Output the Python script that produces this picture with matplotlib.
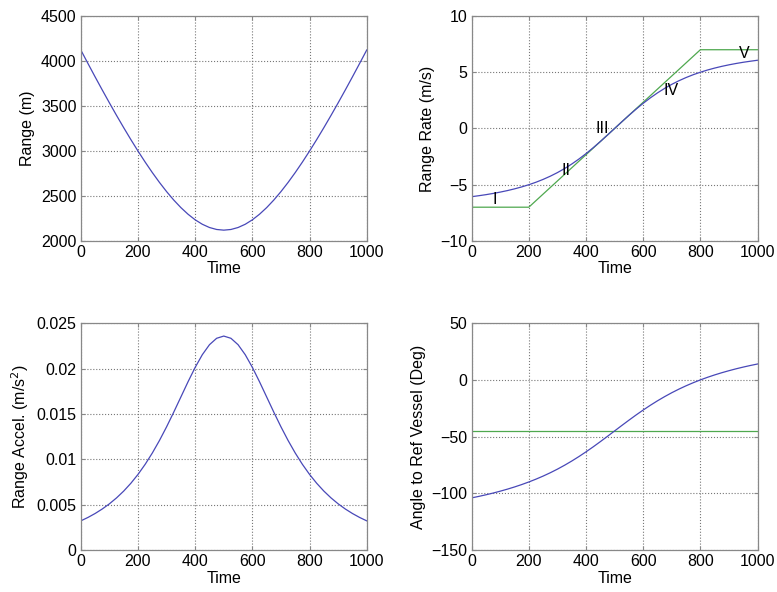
import numpy as np
import matplotlib
matplotlib.use('Agg')
import matplotlib.pyplot as plt

# --- donnees (pas de 25) ---
time = list(range(0, 1001, 25))

range_m = [4122.0, 3971.9, 3823.5, 3677.7, 3534.7, 3394.9, 3258.8, 3126.6, 2999.1, 2876.7,
           2760.3, 2650.6, 2548.4, 2454.7, 2370.5, 2296.9, 2234.8, 2185.3, 2149.3, 2127.4,
           2120.0,
           2127.4, 2149.3, 2185.3, 2234.8, 2296.9, 2370.5, 2454.7, 2548.4, 2650.6, 2760.3,
           2876.7, 2999.1, 3126.6, 3258.8, 3394.9, 3534.7, 3677.7, 3823.5, 3971.9, 4122.0]

range_rate = [-6.065, -5.979, -5.885, -5.778, -5.658, -5.523, -5.370, -5.197, -5.001, -4.780,
              -4.528, -4.244, -3.924, -3.565, -3.164, -2.721, -2.237, -1.716, -1.163, -0.588,
              0.0,
              0.588, 1.163, 1.716, 2.237, 2.721, 3.164, 3.565, 3.924, 4.244, 4.528,
              4.780, 5.001, 5.197, 5.370, 5.523, 5.658, 5.778, 5.885, 5.979, 6.065]

# approximation par morceaux (vert)
approx_t = [0, 200, 800, 1000]
approx_rate = [-7, -7, 7, 7]

range_accel = [0.00321, 0.003586, 0.00402, 0.004518, 0.005088, 0.005743, 0.006493, 0.007352,
               0.00833, 0.00944, 0.010685, 0.012067, 0.013578, 0.015193, 0.01687, 0.018545,
               0.020134, 0.021533, 0.022633, 0.02334, 0.023585,
               0.02334, 0.022633, 0.021533, 0.020134, 0.018545, 0.01687, 0.015193, 0.013578,
               0.012067, 0.010685, 0.00944, 0.00833, 0.007352, 0.006493, 0.005743, 0.005088,
               0.004518, 0.00402, 0.003586, 0.00321]

angle = [-104.05, -102.74, -101.33, -99.81, -98.14, -96.36, -94.42, -92.31, -90.02, -87.53,
         -84.83, -81.89, -78.71, -75.27, -71.58, -67.63, -63.45, -59.05, -54.47, -49.77,
         -45.0,
         -40.23, -35.53, -30.95, -26.55, -22.37, -18.42, -14.73, -11.29, -8.11, -5.17,
         -2.47, 0.02, 2.31, 4.42, 6.36, 8.14, 9.81, 11.33, 12.74, 14.05]

ref_t = [0, 1000]
ref_angle = [-45, -45]

# etiquettes des phases
phase_labels = ['I', 'II', 'III', 'IV', 'V']
phase_x = [80, 331, 456, 698, 955]
phase_y = [-6.3, -3.7, 0.0, 3.4, 6.7]

plt.rcParams['font.family'] = ['Liberation Sans', 'DejaVu Sans']
plt.rcParams['font.size'] = 11.5

BLUE = '#4848b8'
GREEN = '#4fa84f'

fig = plt.figure(figsize=(7.77, 5.92), dpi=100)
left_x, right_x, w = 0.104, 0.607, 0.368
top_y, bot_y = 0.593, 0.071

ax1 = fig.add_axes([left_x, top_y, w, 0.380])
ax2 = fig.add_axes([right_x, top_y, w, 0.380])
ax3 = fig.add_axes([left_x, bot_y, w, 0.383])
ax4 = fig.add_axes([right_x, bot_y, w, 0.383])

ax1.plot(time, range_m, color=BLUE, lw=0.9)
ax1.set_ylim(2000, 4500)
ax1.set_yticks(range(2000, 4501, 500))
ax1.set_ylabel('Range (m)')

ax2.plot(approx_t, approx_rate, color=GREEN, lw=0.9)
ax2.plot(time, range_rate, color=BLUE, lw=0.9)
ax2.set_ylim(-10, 10)
ax2.set_yticks([-10, -5, 0, 5, 10])
ax2.set_ylabel('Range Rate (m/s)')
for lab, x, y in zip(phase_labels, phase_x, phase_y):
    ax2.text(x, y, lab, ha='center', va='center', fontsize=11.5)

ax3.plot(time, range_accel, color=BLUE, lw=0.9)
ax3.set_ylim(0, 0.025)
ax3.set_yticks([0, 0.005, 0.01, 0.015, 0.02, 0.025])
ax3.set_yticklabels(['0', '0.005', '0.01', '0.015', '0.02', '0.025'])
ax3.set_ylabel('Range Accel. (m/s$^2$)')

ax4.plot(ref_t, ref_angle, color=GREEN, lw=0.9)
ax4.plot(time, angle, color=BLUE, lw=0.9)
ax4.set_ylim(-150, 50)
ax4.set_yticks([-150, -100, -50, 0, 50])
ax4.set_ylabel('Angle to Ref Vessel (Deg)')

for ax in (ax1, ax2, ax3, ax4):
    ax.set_xlim(0, 1000)
    ax.set_xticks(range(0, 1001, 200))
    ax.set_xlabel('Time', labelpad=1)
    ax.grid(True, linestyle=':', color='#777777', linewidth=0.8)
    ax.tick_params(direction='in', length=3, color='#888888', top=True, right=True, pad=3)
    for s in ax.spines.values():
        s.set_color('#888888')
        s.set_linewidth(0.9)

fig.savefig('out.png', dpi=100)
